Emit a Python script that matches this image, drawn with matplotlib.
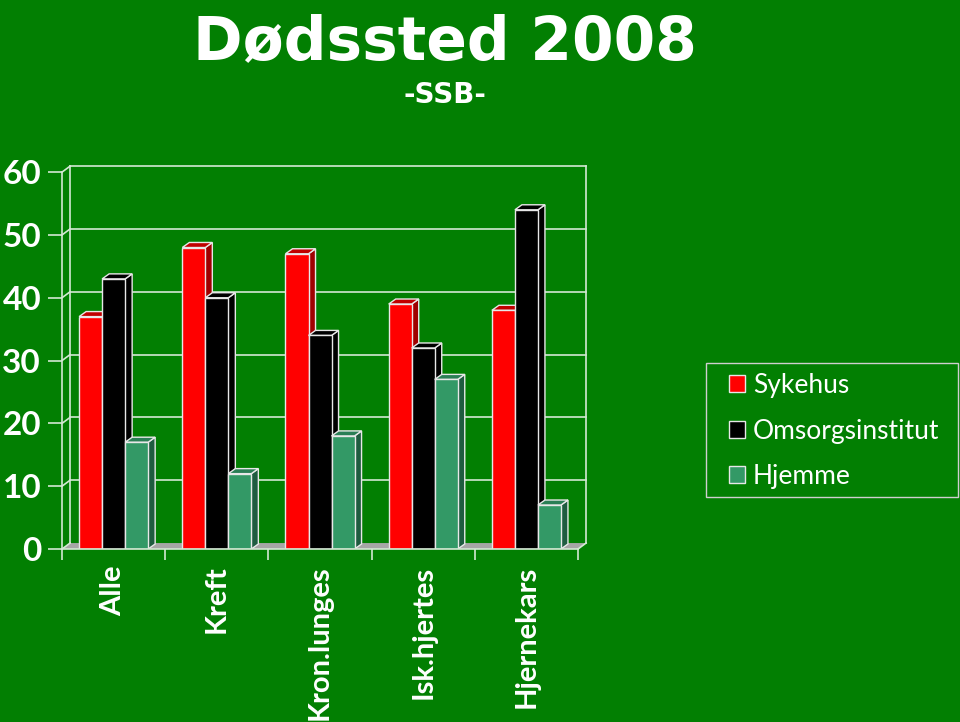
# Dødssted 2008 - clustered bars with a simple fake-3D look
import matplotlib.pyplot as plt
from matplotlib.patches import Polygon, Patch, Rectangle

# ---------- data ----------
categories = ["Alle", "Kreft", "Kron.lunges", "Isk.hjertes", "Hjernekars"]
series_names = ["Sykehus", "Omsorgsinstitut", "Hjemme"]
sykehus = [37, 48, 47, 39, 38]
omsorg = [43, 40, 34, 32, 54]
hjemme = [17, 12, 18, 27, 7]
y_ticks = [0, 10, 20, 30, 40, 50, 60]

# ---------- style ----------
BG = "#027F02"
GRID = "#D4E8D4"
EDGE = "#E8E8E8"
FLOOR = "#A6A6A6"
FRONT = ["#FF0000", "#000000", "#339966"]
TOP = ["#C00000", "#000000", "#2A7F55"]
SIDE = ["#A00000", "#000000", "#1F5C40"]

BAR_W = 0.223
# depth offsets (data units)
BDX, BDY = 0.068, 0.8      # bar depth
WDX, WDY = 0.078, 0.95     # wall depth

fig = plt.figure(figsize=(9.6, 7.22), dpi=100, facecolor=BG)
ax = fig.add_axes([0.0646, 0.2396, 0.5375, 0.522])
ax.set_facecolor("none")
ax.set_xlim(0, len(categories))
ax.set_ylim(0, 60)

ymax = y_ticks[-1]
n = len(categories)

# floor
ax.add_patch(Polygon([(0, 0), (n, 0), (n + WDX, WDY), (WDX, WDY)],
                     closed=True, facecolor=FLOOR, edgecolor="none",
                     zorder=1, clip_on=False))

# back wall grid + left wall
for v in y_ticks[1:]:
    ax.plot([WDX, n + WDX], [v + WDY, v + WDY], color=GRID, lw=1.2,
            zorder=1, clip_on=False)
for v in y_ticks:
    ax.plot([0, WDX], [v, v + WDY], color=GRID, lw=1.2, zorder=1, clip_on=False)
ax.plot([WDX, WDX], [WDY, ymax + WDY], color=GRID, lw=1.2, zorder=1, clip_on=False)
ax.plot([n + WDX, n + WDX], [WDY, ymax + WDY], color=GRID, lw=1.2,
        zorder=1, clip_on=False)
ax.plot([n, n + WDX], [0, WDY], color=GRID, lw=1.2, zorder=1, clip_on=False)

# bars
series = [sykehus, omsorg, hjemme]
z = 2
for i in range(n):
    for j, vals in enumerate(series):
        xc = i + 0.5 + (j - 1) * BAR_W
        x0, x1 = xc - BAR_W / 2, xc + BAR_W / 2
        v = vals[i]
        ax.add_patch(Polygon([(x1, 0), (x1 + BDX, BDY), (x1 + BDX, v + BDY), (x1, v)],
                             closed=True, facecolor=SIDE[j], edgecolor=EDGE,
                             lw=1, zorder=z))
        ax.add_patch(Polygon([(x0, v), (x0 + BDX, v + BDY), (x1 + BDX, v + BDY), (x1, v)],
                             closed=True, facecolor=TOP[j], edgecolor=EDGE,
                             lw=1, zorder=z))
        ax.bar(xc, v, width=BAR_W, color=FRONT[j], edgecolor=EDGE, lw=1,
               zorder=z + 0.5)
        z += 1

# axes styling
for s in ["top", "right"]:
    ax.spines[s].set_visible(False)
for s in ["left", "bottom"]:
    ax.spines[s].set_color(GRID)
    ax.spines[s].set_linewidth(1.2)
    ax.spines[s].set_zorder(50)

ax.set_yticks(y_ticks)
ax.tick_params(axis="y", colors=GRID, length=10, width=1.2, pad=5,
               labelcolor="white", labelsize=24)
for t in ax.get_yticklabels():
    t.set_fontfamily("Lato")
    t.set_fontweight("bold")

centers = [i + 0.5 for i in range(n)]
ax.set_xticks(centers, categories, rotation=90)
ax.tick_params(axis="x", length=0, pad=12, labelcolor="white", labelsize=21)
for t in ax.get_xticklabels():
    t.set_fontfamily("Lato")
    t.set_fontweight("bold")
ax.set_xticks(range(n + 1), minor=True)
ax.tick_params(axis="x", which="minor", length=8, width=1.2, colors=GRID)

# titles
fig.text(0.4635, 0.918, "Dødssted 2008", ha="center", va="baseline",
         fontsize=43, fontweight="bold", color="white", family="DejaVu Sans")
fig.text(0.4635, 0.858, "-SSB-", ha="center", va="baseline",
         fontsize=20, fontweight="bold", color="white", family="DejaVu Sans")

# legend (frame drawn separately to match the box size)
fig.patches.append(Rectangle((706 / 960, 1 - 497 / 722), 252 / 960, 134 / 722,
                             transform=fig.transFigure, facecolor="none",
                             edgecolor="#CFCFCF", lw=1))
handles = [Patch(facecolor=FRONT[k], edgecolor=EDGE, lw=1) for k in range(3)]
leg = fig.legend(handles, series_names, loc="center left",
                 bbox_to_anchor=(729 / 960, 1 - 431 / 722), borderaxespad=0,
                 frameon=False, borderpad=0,
                 handlelength=0.6, handleheight=0.6, handletextpad=0.3,
                 labelspacing=0.78,
                 prop={"family": "Lato", "size": 19})
for t in leg.get_texts():
    t.set_color("white")

fig.savefig("out.png", dpi=100, facecolor=BG)
